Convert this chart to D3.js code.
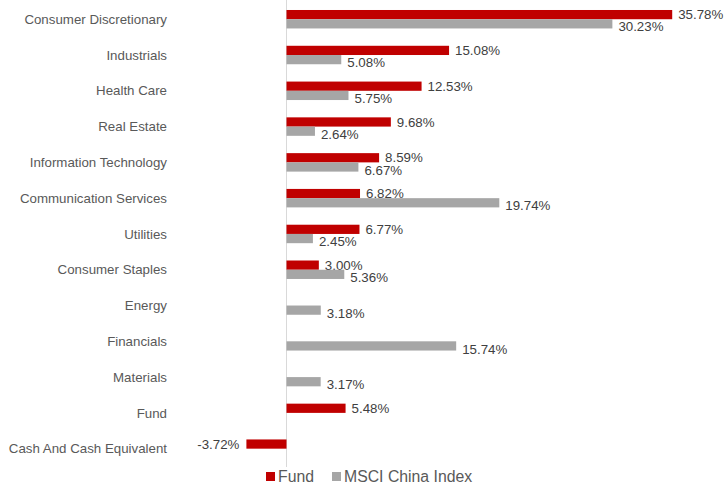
<!DOCTYPE html>
<html>
<meta charset="utf-8">
<style>
  body { margin: 0; background: #fff; }
  text { font-family: "Liberation Sans", Arial, sans-serif; }
  .cat { font-size: 13.3px; fill: #595959; text-anchor: end; }
  .val { font-size: 13.3px; fill: #404040; }
  .legend text { font-size: 15.8px; fill: #595959; }
</style>
<script src="https://d3js.org/d3.v7.min.js"></script>
<body>
<script>
  var width = 726, height = 488;

  var categories = ["Consumer Discretionary", "Industrials", "Health Care", "Real Estate",
    "Information Technology", "Communication Services", "Utilities", "Consumer Staples",
    "Energy", "Financials", "Materials", "Fund", "Cash And Cash Equivalent"];
  var seriesNames = ["Fund", "MSCI China Index"];
  var fundValues = [35.78, 15.08, 12.53, 9.68, 8.59, 6.82, 6.77, 3.00, null, null, null, 5.48, -3.72];
  var msciValues = [30.23, 5.08, 5.75, 2.64, 6.67, 19.74, 2.45, 5.36, 3.18, 15.74, 3.17, null, null];
  var colors = ["#c00000", "#a6a6a6"];

  var svg = d3.select("body").append("svg")
    .attr("width", width)
    .attr("height", height);

  var x = d3.scaleLinear().domain([-4, 40])
    .range([286.5 - 4 * 10.78, 286.5 + 40 * 10.78]);

  var y = d3.scaleBand().domain(categories)
    .range([-7.9, 475.8])
    .paddingInner(0.484)
    .paddingOuter(0.5);

  var ySub = d3.scaleBand().domain(seriesNames).range([0, y.bandwidth()]);

  // zero line
  svg.append("line")
    .attr("x1", x(0)).attr("x2", x(0))
    .attr("y1", 0).attr("y2", 467)
    .attr("stroke", "#d9d9d9");

  // category labels
  svg.selectAll(".cat").data(categories).enter()
    .append("text")
    .attr("class", "cat")
    .attr("x", 167)
    .attr("y", function(d){ return y(d) + y.bandwidth() / 2; })
    .attr("dy", "0.35em")
    .text(function(d){ return d; });

  var series = [fundValues, msciValues];
  var labelDy = [0, 3];

  series.forEach(function(vals, si){
    var rows = vals.map(function(v, i){ return { cat: categories[i], v: v }; })
      .filter(function(d){ return d.v !== null; });
    var g = svg.append("g");

    g.selectAll("rect").data(rows).enter()
      .append("rect")
      .attr("x", function(d){ return x(Math.min(0, d.v)); })
      .attr("y", function(d){ return y(d.cat) + ySub(seriesNames[si]); })
      .attr("width", function(d){ return Math.abs(x(d.v) - x(0)); })
      .attr("height", ySub.bandwidth())
      .attr("fill", colors[si]);

    g.selectAll("text").data(rows).enter()
      .append("text")
      .attr("class", "val")
      .attr("x", function(d){ return d.v < 0 ? x(d.v) - 7 : x(d.v) + 6; })
      .attr("y", function(d){ return y(d.cat) + ySub(seriesNames[si]) + ySub.bandwidth() / 2 + labelDy[si]; })
      .attr("dy", "0.35em")
      .attr("text-anchor", function(d){ return d.v < 0 ? "end" : "start"; })
      .text(function(d){ return d.v.toFixed(2) + "%"; });
  });

  // legend
  var legend = svg.append("g").attr("class", "legend")
    .attr("transform", "translate(266,476.5)");
  var lx = [0, 66];
  seriesNames.forEach(function(name, i){
    var item = legend.append("g").attr("transform", "translate(" + lx[i] + ",0)");
    item.append("rect")
      .attr("x", 0).attr("y", -4.5)
      .attr("width", 9).attr("height", 9)
      .attr("fill", colors[i]);
    item.append("text")
      .attr("x", 12).attr("y", 0)
      .attr("dy", "0.35em")
      .text(name);
  });
</script>
</body>
</html>
